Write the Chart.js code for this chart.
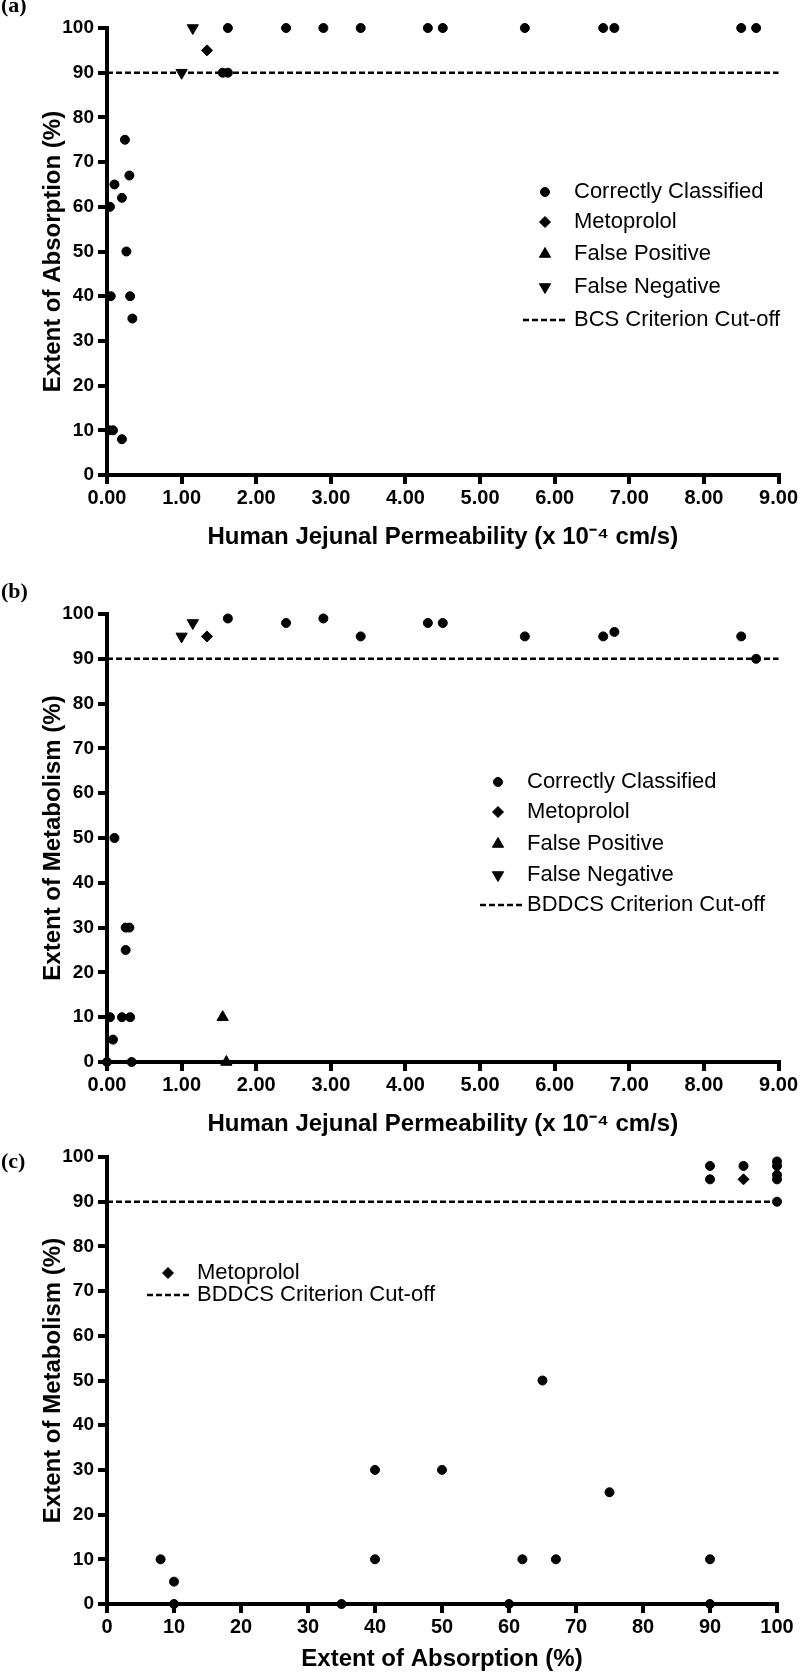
<!DOCTYPE html>
<html>
<head>
<meta charset="utf-8">
<script src="https://cdn.jsdelivr.net/npm/chart.js@4.4.1/dist/chart.umd.min.js"></script>
<style>
html,body{margin:0;padding:0;background:#fff;}
.p{position:absolute;left:0;width:800px;}
</style>
</head>
<body>
<div class="p" style="top:0;height:560px"><canvas id="ca"></canvas></div>
<div class="p" style="top:560px;height:580px"><canvas id="cb"></canvas></div>
<div class="p" style="top:1140px;height:534px"><canvas id="cc"></canvas></div>
<script>
// ---------- tick labels ----------
const PERM_TICK_LABELS = ['0.00','1.00','2.00','3.00','4.00','5.00','6.00','7.00','8.00','9.00'];
const PCT_TICK_LABELS = ['0','10','20','30','40','50','60','70','80','90','100'];
const PERM_RANGE = [0, 9];
const PCT_RANGE = [0, 100];
const CUTOFF = 90;

// ---------- panel (a): absorption vs permeability ----------
const aCorrectPerm = [0.03, 0.08, 0.20, 0.05, 0.31, 0.34, 0.26, 0.04, 0.20, 0.10, 0.30, 0.24, 1.55, 1.62, 1.62, 2.40, 2.90, 3.40, 4.30, 4.50, 5.60, 6.65, 6.80, 8.50, 8.70];
const aCorrectAbs  = [10, 10, 8, 40, 40, 35, 50, 60, 62, 65, 67, 75, 90, 90, 100, 100, 100, 100, 100, 100, 100, 100, 100, 100, 100];
const aMetoPerm = [1.34];
const aMetoAbs  = [95];
const aFalsePosPerm = [];
const aFalsePosAbs  = [];
const aFalseNegPerm = [1.00, 1.15];
const aFalseNegAbs  = [90, 100];

// ---------- panel (b): metabolism vs permeability ----------
const bCorrectPerm = [0.00, 0.33, 0.08, 0.04, 0.20, 0.31, 0.25, 0.25, 0.30, 0.10, 1.62, 2.40, 2.90, 3.40, 4.30, 4.50, 5.60, 6.65, 6.80, 8.50, 8.70];
const bCorrectMet  = [0, 0, 5, 10, 10, 10, 25, 30, 30, 50, 99, 98, 99, 95, 98, 98, 95, 95, 96, 95, 90];
const bMetoPerm = [1.34];
const bMetoMet  = [95];
const bFalsePosPerm = [1.55, 1.60];
const bFalsePosMet  = [10, 0];
const bFalseNegPerm = [1.00, 1.15];
const bFalseNegMet  = [95, 98];

// ---------- panel (c): metabolism vs absorption ----------
const cCorrectAbs = [8, 10, 10, 35, 40, 40, 50, 60, 62, 65, 67, 75, 90, 90, 90, 90, 95, 100, 100, 100, 100, 100];
const cCorrectMet = [10, 5, 0, 0, 30, 10, 30, 0, 10, 50, 10, 25, 10, 0, 98, 95, 98, 99, 98, 96, 95, 90];
const cMetoAbs = [95];
const cMetoMet = [95];

// ---------- helpers ----------
const SANS = "'Liberation Sans', Arial, Helvetica, sans-serif";
const SERIF = "'Liberation Serif', 'Times New Roman', serif";
const toPoints = (xs, ys) => xs.map((x, i) => ({x: x, y: ys[i]}));

const STYLE = {
  circle:   {pointStyle: 'circle',   r: 4.5, rot: 0},
  diamond:  {pointStyle: 'rectRot',  r: 5.5, rot: 0},
  triUp:    {pointStyle: 'triangle', r: 6.5, rot: 0},
  triDown:  {pointStyle: 'triangle', r: 6.5, rot: 180}
};
const DASH = [6, 3];
const DASH_WIDTH = 2.5;

function markerDs(label, xs, ys, key) {
  const s = STYLE[key];
  return {
    label: label, data: toPoints(xs, ys), showLine: false, clip: false,
    pointStyle: s.pointStyle, pointRadius: s.r, pointRotation: s.rot,
    pointBackgroundColor: '#000', pointBorderColor: '#000', pointBorderWidth: 1,
    pointHoverRadius: s.r
  };
}
function cutoffDs(label, range) {
  return {
    label: label, data: [{x: range[0], y: CUTOFF}, {x: range[1], y: CUTOFF}],
    showLine: true, clip: false, borderColor: '#000', borderWidth: DASH_WIDTH, borderDash: DASH,
    pointRadius: 0, pointHoverRadius: 0, fill: false
  };
}

function drawMarker(ctx, key, x, y) {
  const s = STYLE[key];
  const r = s.r;
  ctx.save();
  ctx.fillStyle = '#000'; ctx.strokeStyle = '#000'; ctx.lineWidth = 1;
  ctx.beginPath();
  if (key === 'circle') {
    ctx.arc(x, y, r, 0, Math.PI * 2);
  } else if (key === 'diamond') {
    ctx.moveTo(x - r, y); ctx.lineTo(x, y - r); ctx.lineTo(x + r, y); ctx.lineTo(x, y + r);
  } else {
    let rad = s.rot * Math.PI / 180;
    for (let k = 0; k < 3; k++) {
      const px = x + Math.sin(rad) * r, py = y - Math.cos(rad) * r;
      if (k === 0) ctx.moveTo(px, py); else ctx.lineTo(px, py);
      rad += 2 * Math.PI / 3;
    }
  }
  ctx.closePath(); ctx.fill(); ctx.stroke();
  ctx.restore();
}

const decoPlugin = {
  id: 'deco',
  afterDraw(chart, args, opts) {
    const ctx = chart.ctx;
    const top = opts.pageTop;
    ctx.save();
    ctx.fillStyle = '#000';
    ctx.font = 'bold 22px ' + SERIF;
    ctx.textAlign = 'left'; ctx.textBaseline = 'alphabetic';
    ctx.fillText(opts.panel, 1, opts.panelBaseline - top);
    ctx.font = '22px ' + SANS;
    ctx.textBaseline = 'middle';
    opts.items.forEach((it, i) => {
      const y = opts.rows[i] - top;
      if (it.kind === 'dash') {
        ctx.save();
        ctx.strokeStyle = '#000'; ctx.lineWidth = DASH_WIDTH; ctx.setLineDash(DASH);
        ctx.beginPath(); ctx.moveTo(opts.dash[0], y); ctx.lineTo(opts.dash[1], y); ctx.stroke();
        ctx.restore();
      } else {
        drawMarker(ctx, it.kind, opts.markerX, y);
      }
      ctx.fillText(it.text, opts.textX, y);
    });
    ctx.restore();
  }
};

function yAxis(title) {
  return {
    type: 'linear', min: PCT_RANGE[0], max: PCT_RANGE[1],
    afterFit: s => { s.width = 107; },
    ticks: {stepSize: 10, color: '#000', padding: 4, font: {family: SANS, size: 19, weight: 'bold'},
            callback: (v, i) => PCT_TICK_LABELS[i]},
    grid: {display: true, drawOnChartArea: false, drawTicks: true, tickLength: 9, tickWidth: 4, tickColor: '#000', color: '#000', lineWidth: 4},
    border: {display: true, color: '#000', width: 4},
    title: {display: true, text: title, color: '#000', font: {family: SANS, size: 24, weight: 'bold'}, padding: {top: 39, bottom: 0}}
  };
}
function xAxis(range, step, labels, title, height, padBottom) {
  return {
    type: 'linear', min: range[0], max: range[1],
    afterFit: s => { s.height = height; },
    ticks: {stepSize: step, color: '#000', padding: 2, maxRotation: 0, autoSkip: false,
            font: {family: SANS, size: 20, weight: 'bold'},
            callback: (v, i) => labels[i]},
    grid: {display: true, drawOnChartArea: false, drawTicks: true, tickLength: 9, tickWidth: 4, tickColor: '#000', color: '#000', lineWidth: 4},
    border: {display: true, color: '#000', width: 4},
    title: {display: true, text: title, color: '#000', font: {family: SANS, size: 24, weight: 'bold'}, padding: {top: 0, bottom: padBottom}}
  };
}

function makeChart(id, datasets, scales, padding, deco) {
  return new Chart(document.getElementById(id), {
    type: 'scatter',
    data: {datasets: datasets},
    options: {
      responsive: true, maintainAspectRatio: false, animation: false, devicePixelRatio: 1,
      events: [],
      layout: {padding: padding},
      plugins: {legend: {display: false}, tooltip: {enabled: false}, deco: deco},
      scales: scales
    },
    plugins: [decoPlugin]
  });
}

const PERM_TITLE = 'Human Jejunal Permeability (x 10\u207B\u2074 cm/s)';

makeChart('ca', [
  markerDs('Correctly Classified', aCorrectPerm, aCorrectAbs, 'circle'),
  markerDs('Metoprolol', aMetoPerm, aMetoAbs, 'diamond'),
  markerDs('False Positive', aFalsePosPerm, aFalsePosAbs, 'triUp'),
  markerDs('False Negative', aFalseNegPerm, aFalseNegAbs, 'triDown'),
  cutoffDs('BCS Criterion Cut-off', PERM_RANGE)
], {
  x: xAxis(PERM_RANGE, 1, PERM_TICK_LABELS, PERM_TITLE, 85, 8.6),
  y: yAxis('Extent of Absorption (%)')
}, {top: 28, right: 20, left: 0, bottom: 0}, {
  pageTop: 0, panel: '(a)', panelBaseline: 12,
  markerX: 545, textX: 574, dash: [523, 567],
  rows: [192, 222, 254, 287, 320],
  items: [
    {kind: 'circle', text: 'Correctly Classified'},
    {kind: 'diamond', text: 'Metoprolol'},
    {kind: 'triUp', text: 'False Positive'},
    {kind: 'triDown', text: 'False Negative'},
    {kind: 'dash', text: 'BCS Criterion Cut-off'}
  ]
});

makeChart('cb', [
  markerDs('Correctly Classified', bCorrectPerm, bCorrectMet, 'circle'),
  markerDs('Metoprolol', bMetoPerm, bMetoMet, 'diamond'),
  markerDs('False Positive', bFalsePosPerm, bFalsePosMet, 'triUp'),
  markerDs('False Negative', bFalseNegPerm, bFalseNegMet, 'triDown'),
  cutoffDs('BDDCS Criterion Cut-off', PERM_RANGE)
], {
  x: xAxis(PERM_RANGE, 1, PERM_TICK_LABELS, PERM_TITLE, 78, 1.6),
  y: yAxis('Extent of Metabolism (%)')
}, {top: 54, right: 20, left: 0, bottom: 0}, {
  pageTop: 560, panel: '(b)', panelBaseline: 598,
  markerX: 498, textX: 527, dash: [480, 523],
  rows: [782, 812, 844, 875, 905],
  items: [
    {kind: 'circle', text: 'Correctly Classified'},
    {kind: 'diamond', text: 'Metoprolol'},
    {kind: 'triUp', text: 'False Positive'},
    {kind: 'triDown', text: 'False Negative'},
    {kind: 'dash', text: 'BDDCS Criterion Cut-off'}
  ]
});

makeChart('cc', [
  markerDs('Correctly Classified', cCorrectAbs, cCorrectMet, 'circle'),
  markerDs('Metoprolol', cMetoAbs, cMetoMet, 'diamond'),
  cutoffDs('BDDCS Criterion Cut-off', PCT_RANGE)
], {
  x: xAxis(PCT_RANGE, 10, PCT_TICK_LABELS, 'Extent of Absorption (%)', 70, 0),
  y: yAxis('Extent of Metabolism (%)')
}, {top: 17, right: 23, left: 0, bottom: 0}, {
  pageTop: 1140, panel: '(c)', panelBaseline: 1168,
  markerX: 168, textX: 197, dash: [147, 189],
  rows: [1273, 1295],
  items: [
    {kind: 'diamond', text: 'Metoprolol'},
    {kind: 'dash', text: 'BDDCS Criterion Cut-off'}
  ]
});
</script>
</body>
</html>
